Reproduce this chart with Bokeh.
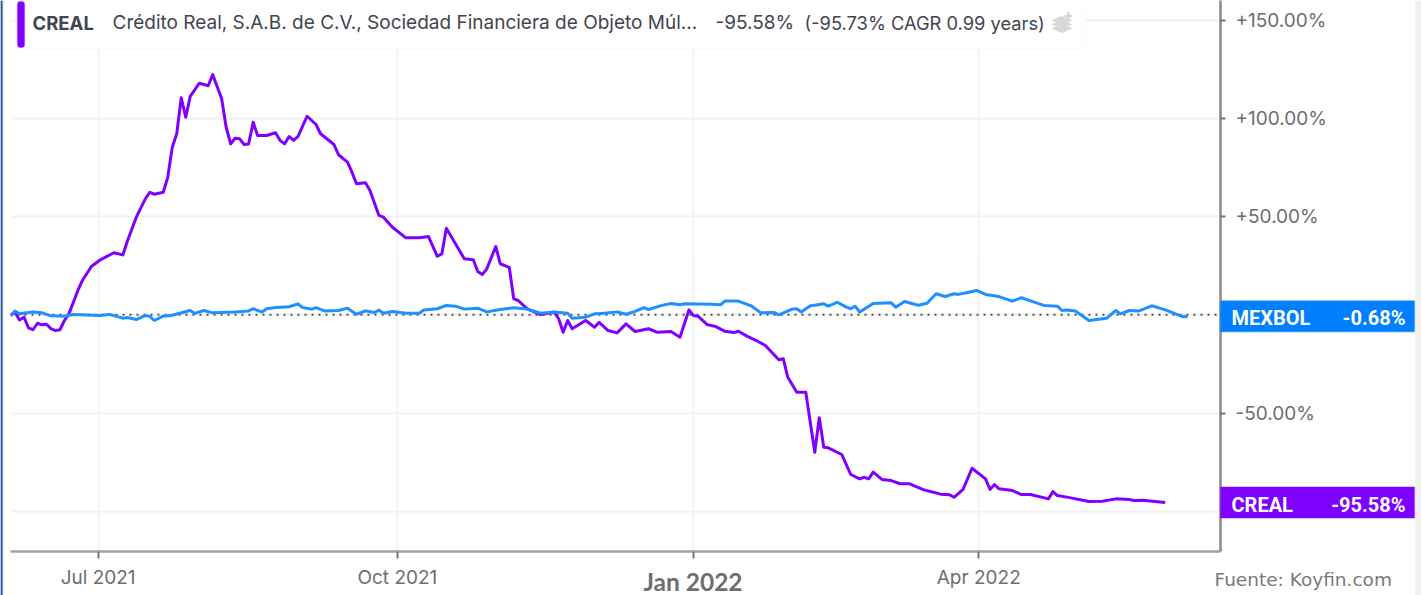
from bokeh.plotting import figure
from bokeh.embed import file_html
from bokeh.resources import INLINE
from bokeh.core.properties import value
from bokeh.models import Range1d, FixedTicker, BoxAnnotation, Span, Column

# x is the trading-session number (0 = first session of the chart)
creal_s = [0,1,2,3,4,5,6,7,8,9,10,11,12,13,15,16,18,20,23,25,26,28,30,31,32,34,35,36,37,38,39,40,42,44,45,47,48,49,50,51,52,53,54,55,57,59,60,61,62,63,64,66,68,69,72,73,75,76,77,79,80,82,83,85,88,91,93,95,96,97,101,103,104,105,106,108,109,111,112,113,115,118,121,122,123,124,125,128,130,131,133,135,137,139,142,144,147,149,151,152,153,155,157,159,161,162,164,166,168,171,172,173,175,177,179,180,181,182,185,187,189,190,191,192,194,196,198,200,203,207,209,210,212,214,217,218,219,220,223,225,227,231,232,233,236,240,243,246,249,250,252,257]
creal_v = [-0.4,1.3,-2.6,-1.2,-6.6,-7.6,-4.3,-5.1,-4.8,-7,-8,-7.6,-2.9,0.5,12.4,17.5,24.6,28,31.6,30.5,37.5,49.7,59,62.4,61.4,62.4,70,85.3,92.2,110.5,100.6,111.2,117.9,116.6,122.3,110,95.5,87,89.9,89.6,86.7,87,98,91.3,91.3,92.7,88.8,87,90.8,88.8,90.8,101.1,96.9,92.2,86.7,81.5,77.7,72.6,66.7,67.2,63.3,50.6,49.7,44.6,39.2,39.2,39.9,29.8,31,44.1,28.5,28,22,20.5,23.4,34.8,26,24.2,8.1,7.3,3,0.1,1.3,-2,-8.9,-2.9,-7.1,-2.9,-6.3,-3.8,-8,-9.2,-4.6,-8.5,-7.1,-8.9,-8.5,-11.4,2.5,-0.4,-0.7,-4.9,-6,-8.4,-9,-8.4,-11,-13.1,-15.6,-22.9,-22.4,-31.8,-39.4,-39.4,-70,-52.4,-67.4,-67.7,-71.1,-81.3,-83.5,-82.7,-83.5,-80.1,-83.9,-84.4,-86,-86,-88.9,-91.3,-91.6,-92.9,-88.9,-78.1,-83.5,-88.9,-86.4,-88.6,-89.5,-91.5,-91.5,-93.7,-90,-92,-93.2,-95,-94.9,-93.7,-94,-94.5,-94.4,-95.58]
mexbol_s = [0,1,2,5,7,9,12,14,20,22,25,26,28,30,31,32,34,36,40,41,43,45,50,53,54,56,57,59,62,64,65,67,68,70,73,75,77,79,81,82,83,85,88,91,92,95,97,99,101,104,106,109,112,115,118,121,124,125,128,130,131,135,137,139,141,142,145,147,149,150,156,158,159,162,165,167,170,171,174,175,176,178,179,181,182,184,186,187,188,189,192,196,197,199,202,204,206,208,210,211,213,215,217,220,223,225,228,230,233,234,235,237,240,244,246,247,249,251,254,257,261,262]
mexbol_v = [-0.3,1.9,0.5,1.4,1,-0.5,-0.7,0.2,-0.3,0.2,-1.7,-1.4,-2.4,-0.3,-0.8,-2.9,-0.7,-0.2,2.2,0.7,2.2,1,1.4,2,3.1,1.4,3.1,3.7,4.1,5.6,3.7,2.9,3.7,1.9,2.2,3.4,0.3,2,1.2,2.4,0.8,1.7,0.8,0.8,2.5,3.1,4.8,4.4,2.9,3.4,1.5,2.7,3.6,2.9,0.8,1.4,0.8,-1.7,-1.2,0.5,0.5,1.5,0.3,1.7,3.7,2.7,4.8,5.8,5.1,5.6,5.4,5.1,7,7,4.4,1,1.2,0,2.9,3.1,1.4,4.6,4.9,5.6,4.4,6.4,3.9,3.1,4.4,1.4,5.8,6.1,3.9,6.8,4.9,5.9,10.7,9.3,10.7,10.4,11.4,12.4,10.4,9.3,7,8.7,6.3,4.8,4.4,2.2,2.5,1.9,-2.9,-1.7,2.2,0.5,2.2,1.9,4.6,2.5,-1,-0.68]

x_ticks = [19.5, 86.1, 151.9, 215.5]
x_labels = ["Jul 2021", "Oct 2021", "Jan 2022", "Apr 2022"]
y_ticks = [-50, 50, 100, 150]
y_labels = ["-50.00%", "+50.00%", "+100.00%", "+150.00%"]
y_grid = [-100, -50, 0, 50, 100, 150]

PURPLE, BLUE, TAG_BLUE = "#7f00ff", "#1e90ff", "#0080ff"
W, H = 1421, 595
FL, FR, FT, FB = 10, 1220, 0, 551     # plot frame in canvas pixels
XR, YR = (0, 269.3), (-120.5, 160.03)

p = figure(width=W, height=H, output_backend="svg", toolbar_location=None,
           x_range=Range1d(*XR), y_range=Range1d(*YR), y_axis_location="right",
           min_border_left=FL, min_border_right=W - FR, min_border_top=FT, min_border_bottom=H - FB,
           background_fill_color="white", border_fill_color="white", outline_line_color=None,
           frame_align=False)

for ax in (p.xaxis[0], p.yaxis[0]):
    ax.axis_line_color = "#a3a3a3"; ax.axis_line_width = 2.5
    ax.major_tick_line_color = "#777777"; ax.major_tick_line_width = 2
    ax.minor_tick_line_color = None
    ax.major_tick_in = 0
    ax.major_label_text_color = "#6e6e6e"
    ax.major_label_text_font = "Inter"
    ax.major_label_text_font_size = "19px"

p.xaxis.ticker = FixedTicker(ticks=x_ticks)
p.xaxis.major_tick_out = 7
p.xaxis.major_label_standoff = 7
p.xaxis.major_label_overrides = {t: (" " if l == "Jan 2022" else l) for t, l in zip(x_ticks, x_labels)}
p.yaxis.ticker = FixedTicker(ticks=y_ticks)
p.yaxis.major_tick_out = 5
p.yaxis.major_label_standoff = 10
p.yaxis.axis_line_color = "#8a8a8a"
p.yaxis.major_label_overrides = dict(zip(y_ticks, y_labels))

p.xgrid.ticker = FixedTicker(ticks=x_ticks)
p.ygrid.ticker = FixedTicker(ticks=y_grid)
for g in (p.xgrid[0], p.ygrid[0]):
    g.grid_line_color = "#f2f2f2"; g.grid_line_width = 2

p.add_layout(Span(location=0, dimension="width", line_color="#555555",
                  line_width=2, line_dash="2 5", level="underlay"))
p.line(creal_s, creal_v, line_color=PURPLE, line_width=3, line_join="round")
p.line(mexbol_s, mexbol_v, line_color=BLUE, line_width=3, line_join="round")

# transparent layer over the whole canvas for what sits outside the frame; units are canvas pixels
o = figure(width=W, height=H, output_backend="svg", toolbar_location=None,
           x_range=Range1d(0, W), y_range=Range1d(H, 0), x_axis_type=None, y_axis_type=None,
           min_border=0, background_fill_color=None, border_fill_color=None, outline_line_color=None,
           frame_align=False, styles={"position": "absolute", "left": "0px", "top": "0px"})
o.grid.visible = False

def box(l, r, t, b, color, line=None, radius=0):
    o.add_layout(BoxAnnotation(left=l, right=r, top=t, bottom=b, fill_color=color, fill_alpha=1,
                               line_color=line or color, line_width=1.5, border_radius=radius, level="underlay"))

def text(x, y, s, size, color, font="Inter", style="normal", align="left"):
    o.text([x], [y], text=[s], text_font=value(font), text_font_size=value(size), text_color=color,
           text_font_style=style, text_align=align, text_baseline="middle")

box(0, 2, 0, H, "#2f5a9e")
box(1415, W, 0, H, "#f0f0f0")
box(17, 1085, -6, 48, "white", line="#eeeeee", radius=6)
box(17, 24, 1, 47, PURPLE, radius=3)

DARK = "#42454f"
text(32, 22, "CREAL", "18.5px", DARK, style="bold")
text(112, 22, "Crédito Real, S.A.B. de C.V., Sociedad Financiera de Objeto Múl...", "19px", DARK)
text(715, 22, "-95.58%", "19px", DARK)
text(804, 22, "(-95.73% CAGR 0.99 years)", "18.3px", DARK)
for dy in (0, 4, 8):
    o.patch([1052, 1061, 1071, 1061], [28 - dy, 32 - dy, 28 - dy, 24 - dy], color="#d8d8d8")
text(1068, 14, "+", "16px", "#d0d0d0", style="bold", align="center")

# end-of-line tags, placed at the final values
px_per_pct = (FB - FT) / (YR[1] - YR[0])
for name, val, col in (("MEXBOL", mexbol_v[-1], TAG_BLUE), ("CREAL", creal_v[-1], PURPLE)):
    cy = FT + (YR[1] - val) * px_per_pct
    box(FR, 1414, cy - 15.5, cy + 15.5, col)
    text(1231, cy + 2, name, "20px", "white", font="Roboto", style="bold")
    text(1405, cy + 2, f"{val:.2f}%", "20px", "white", font="Roboto", style="bold", align="right")

jan_x = FL + (x_ticks[2] - XR[0]) * (FR - FL) / (XR[1] - XR[0])
text(jan_x, 581, x_labels[2], "24.5px", "#6e6e6e", font="Lato", style="bold", align="center")
text(1214, 579, "Fuente: Koyfin.com", "18.5px", "#7a7a7a", font="DejaVu Sans")

page = Column(children=[p, o], width=W, height=H)
open("out.html", "w").write(file_html(page, INLINE))
